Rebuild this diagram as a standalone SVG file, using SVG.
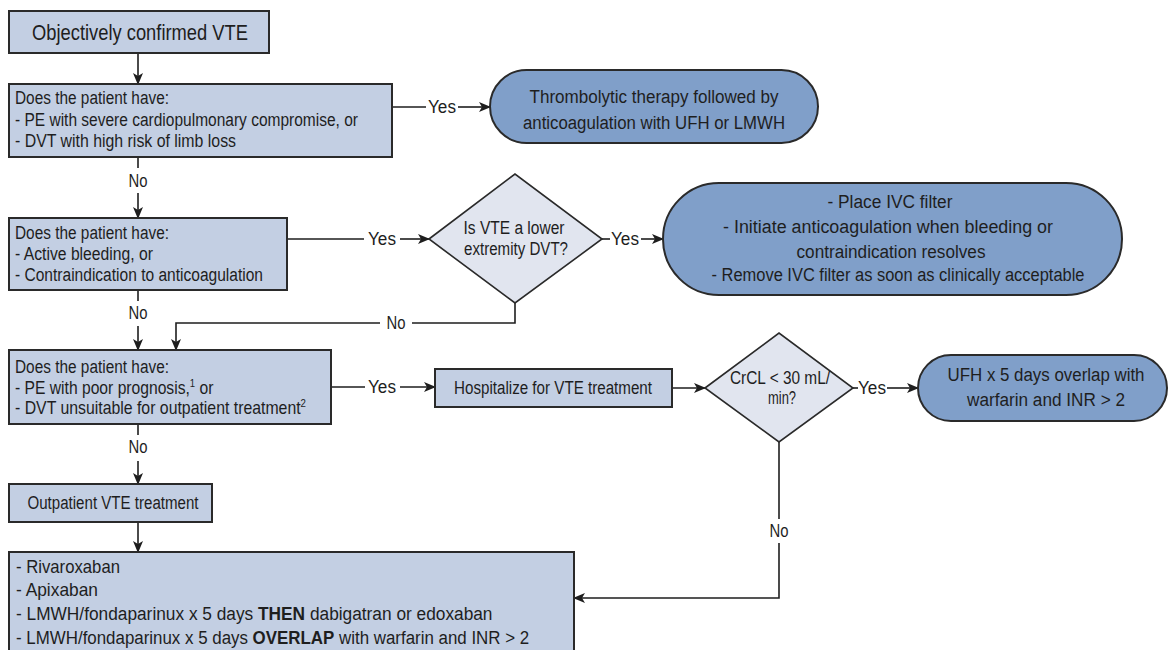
<svg xmlns="http://www.w3.org/2000/svg" width="1173" height="650" viewBox="0 0 1173 650">
  <style>
    .box { fill: #c3cfe3; stroke: #2a2a2a; stroke-width: 2; }
    .pill { fill: #809fc9; stroke: #2a2a2a; stroke-width: 2; }
    .dia { fill: #e1e5ef; stroke: #2a2a2a; stroke-width: 1.6; }
    /* condensed sans: each line squeezed to its set length */
    .t { font-family: "Liberation Sans", Arial, sans-serif; font-size: 18px; fill: #1e1e1e; }
    .c { text-anchor: middle; }
    .title { font-size: 22px; }
    .big { font-size: 19px; }
    .wire { fill: none; stroke: #1e1e1e; stroke-width: 1.6; }
    .sup { font-size: 11px; }
    .b { font-weight: bold; }
  </style>
  <defs>
    <marker id="arrow" viewBox="0 0 12 10" markerWidth="12" markerHeight="10" refX="11" refY="5" orient="auto" markerUnits="userSpaceOnUse">
      <path d="M0,0 L12,5 L0,10 L3,5 z" fill="#1e1e1e"/>
    </marker>
  </defs>
  <rect width="1173" height="650" fill="#ffffff"/>

  <!-- connectors -->
  <g id="connectors">
    <line class="wire" x1="138" y1="53" x2="138" y2="84" marker-end="url(#arrow)"/>
    <!-- box2 yes -->
    <line class="wire" x1="392" y1="107" x2="426" y2="107"/>
    <text class="t c" x="442" y="113" textLength="28" lengthAdjust="spacingAndGlyphs">Yes</text>
    <line class="wire" x1="458" y1="107" x2="490" y2="107" marker-end="url(#arrow)"/>
    <!-- box2 no -->
    <line class="wire" x1="138" y1="157" x2="138" y2="168"/>
    <text class="t c" x="138" y="187" textLength="19" lengthAdjust="spacingAndGlyphs">No</text>
    <line class="wire" x1="138" y1="193" x2="138" y2="218" marker-end="url(#arrow)"/>
    <!-- box3 yes -->
    <line class="wire" x1="287" y1="239" x2="364" y2="239"/>
    <text class="t c" x="382" y="245" textLength="28" lengthAdjust="spacingAndGlyphs">Yes</text>
    <line class="wire" x1="400" y1="239" x2="429" y2="239" marker-end="url(#arrow)"/>
    <!-- diamond1 yes -->
    <line class="wire" x1="602" y1="239" x2="610" y2="239"/>
    <text class="t c" x="625" y="245" textLength="28" lengthAdjust="spacingAndGlyphs">Yes</text>
    <line class="wire" x1="641" y1="239" x2="663" y2="239" marker-end="url(#arrow)"/>
    <!-- diamond1 no -->
    <polyline class="wire" points="515,303 515,323 412,323"/>
    <text class="t c" x="396" y="329" textLength="19" lengthAdjust="spacingAndGlyphs">No</text>
    <polyline class="wire" points="380,323 176,323 176,350" marker-end="url(#arrow)"/>
    <!-- box3 no -->
    <line class="wire" x1="138" y1="290" x2="138" y2="301"/>
    <text class="t c" x="138" y="319" textLength="19" lengthAdjust="spacingAndGlyphs">No</text>
    <line class="wire" x1="138" y1="326" x2="138" y2="350" marker-end="url(#arrow)"/>
    <!-- box4 yes -->
    <line class="wire" x1="331" y1="387" x2="365" y2="387"/>
    <text class="t c" x="382" y="393" textLength="28" lengthAdjust="spacingAndGlyphs">Yes</text>
    <line class="wire" x1="400" y1="387" x2="435" y2="387" marker-end="url(#arrow)"/>
    <!-- hospitalize to diamond2 -->
    <line class="wire" x1="672" y1="388" x2="705" y2="388" marker-end="url(#arrow)"/>
    <!-- diamond2 yes -->
    <line class="wire" x1="853" y1="388" x2="858" y2="388"/>
    <text class="t c" x="872" y="394" textLength="28" lengthAdjust="spacingAndGlyphs">Yes</text>
    <line class="wire" x1="887" y1="388" x2="918" y2="388" marker-end="url(#arrow)"/>
    <!-- diamond2 no -->
    <line class="wire" x1="779" y1="442" x2="779" y2="519"/>
    <text class="t c" x="779" y="537" textLength="19" lengthAdjust="spacingAndGlyphs">No</text>
    <polyline class="wire" points="779,543 779,598 574,598" marker-end="url(#arrow)"/>
    <!-- box4 no -->
    <line class="wire" x1="138" y1="424" x2="138" y2="435"/>
    <text class="t c" x="138" y="453" textLength="19" lengthAdjust="spacingAndGlyphs">No</text>
    <line class="wire" x1="138" y1="461" x2="138" y2="484" marker-end="url(#arrow)"/>
    <!-- box5 to box6 -->
    <line class="wire" x1="138" y1="522" x2="138" y2="552" marker-end="url(#arrow)"/>
  </g>

  <g id="confirmed-vte">
    <rect class="box" x="9" y="11" width="260" height="42"/>
    <text class="t c title" x="140" y="40" textLength="216" lengthAdjust="spacingAndGlyphs">Objectively confirmed VTE</text>
  </g>

  <g id="q-severe">
    <rect class="box" x="9" y="84" width="383" height="73"/>
    <text class="t" x="15" y="104" textLength="154" lengthAdjust="spacingAndGlyphs">Does the patient have:</text>
    <text class="t" x="15" y="126" textLength="343" lengthAdjust="spacingAndGlyphs">- PE with severe cardiopulmonary compromise, or</text>
    <text class="t" x="15" y="147" textLength="221" lengthAdjust="spacingAndGlyphs">- DVT with high risk of limb loss</text>
  </g>

  <g id="thrombolytic">
    <rect class="pill" x="490" y="70" width="328" height="73" rx="36.5"/>
    <text class="t c" x="654" y="103" textLength="249" lengthAdjust="spacingAndGlyphs">Thrombolytic therapy followed by</text>
    <text class="t c" x="654" y="129" textLength="262" lengthAdjust="spacingAndGlyphs">anticoagulation with UFH or LMWH</text>
  </g>

  <g id="q-bleeding">
    <rect class="box" x="9" y="218" width="278" height="72"/>
    <text class="t" x="15" y="239" textLength="154" lengthAdjust="spacingAndGlyphs">Does the patient have:</text>
    <text class="t" x="15" y="260" textLength="138" lengthAdjust="spacingAndGlyphs">- Active bleeding, or</text>
    <text class="t" x="15" y="281" textLength="248" lengthAdjust="spacingAndGlyphs">- Contraindication to anticoagulation</text>
  </g>

  <g id="q-lower-dvt">
    <polygon class="dia" points="429,239 515,174 602,239 515,303"/>
    <text class="t c" x="514" y="234" textLength="101" lengthAdjust="spacingAndGlyphs">Is VTE a lower</text>
    <text class="t c" x="516" y="255" textLength="104" lengthAdjust="spacingAndGlyphs">extremity DVT?</text>
  </g>

  <g id="ivc-filter">
    <rect class="pill" x="663" y="183" width="459" height="112" rx="56"/>
    <text class="t c" x="890" y="208" textLength="125" lengthAdjust="spacingAndGlyphs">- Place IVC filter</text>
    <text class="t c" x="888" y="233" textLength="330" lengthAdjust="spacingAndGlyphs">- Initiate anticoagulation when bleeding or</text>
    <text class="t c" x="891" y="258" textLength="189" lengthAdjust="spacingAndGlyphs">contraindication resolves</text>
    <text class="t c" x="898" y="281" textLength="373" lengthAdjust="spacingAndGlyphs">- Remove IVC filter as soon as clinically acceptable</text>
  </g>

  <g id="q-prognosis">
    <rect class="box" x="9" y="350" width="322" height="74"/>
    <text class="t" x="15" y="373" textLength="154" lengthAdjust="spacingAndGlyphs">Does the patient have:</text>
    <text class="t" transform="translate(15,394) scale(0.87,1)">- PE with poor prognosis,<tspan class="sup" dy="-7">1</tspan><tspan dy="7"> or</tspan></text>
    <text class="t" transform="translate(15,414) scale(0.88,1)">- DVT unsuitable for outpatient treatment<tspan class="sup" dy="-7">2</tspan></text>
  </g>

  <g id="hospitalize">
    <rect class="box" x="435" y="369" width="237" height="38"/>
    <text class="t c" x="553" y="394" textLength="198" lengthAdjust="spacingAndGlyphs">Hospitalize for VTE treatment</text>
  </g>

  <g id="q-crcl">
    <polygon class="dia" points="705,388 779,333 853,388 779,442"/>
    <text class="t c" x="780" y="384" textLength="100" lengthAdjust="spacingAndGlyphs">CrCL &lt; 30 mL/</text>
    <text class="t c" x="782" y="404" textLength="28" lengthAdjust="spacingAndGlyphs">min?</text>
  </g>

  <g id="ufh">
    <rect class="pill" x="918" y="355" width="249" height="66" rx="33"/>
    <text class="t c" x="1046" y="381" textLength="197" lengthAdjust="spacingAndGlyphs">UFH x 5 days overlap with</text>
    <text class="t c" x="1046" y="406" textLength="158" lengthAdjust="spacingAndGlyphs">warfarin and INR &gt; 2</text>
  </g>

  <g id="outpatient">
    <rect class="box" x="9" y="484" width="203" height="38"/>
    <text class="t c" x="113" y="509" textLength="171" lengthAdjust="spacingAndGlyphs">Outpatient VTE treatment</text>
  </g>

  <g id="regimens">
    <rect class="box" x="9" y="552" width="565" height="100"/>
    <text class="t big" x="16" y="573" textLength="104" lengthAdjust="spacingAndGlyphs">- Rivaroxaban</text>
    <text class="t big" x="16" y="596" textLength="82" lengthAdjust="spacingAndGlyphs">- Apixaban</text>
    <text class="t big" transform="translate(16,620) scale(0.91,1)">- LMWH/fondaparinux x 5 days <tspan class="b">THEN</tspan> dabigatran or edoxaban</text>
    <text class="t big" transform="translate(16,644) scale(0.89,1)">- LMWH/fondaparinux x 5 days <tspan class="b">OVERLAP</tspan> with warfarin and INR &gt; 2</text>
  </g>
</svg>
